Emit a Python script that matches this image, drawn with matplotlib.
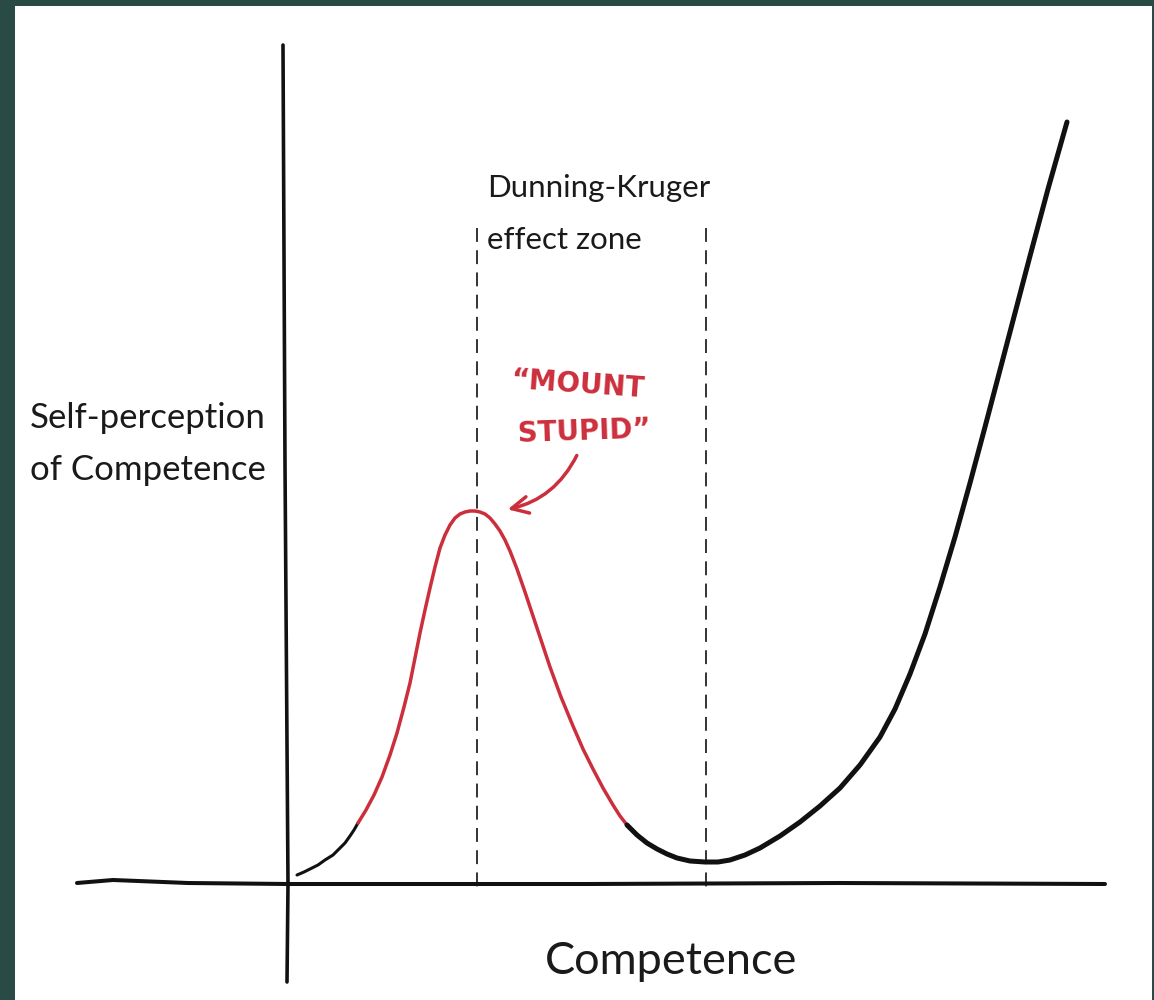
import matplotlib.pyplot as plt

plt.rcParams['lines.scale_dashes'] = False

# curve (origin where the two axes cross)
lead_x = [9, 16, 22, 30, 37, 45, 52, 57, 62, 66, 70]
lead_y = [9, 12, 15, 19, 24, 29, 36, 41, 48, 54, 61]

stupid_x = [70, 78, 86, 94, 102, 109, 116, 122, 127, 132, 137, 142, 147, 152, 157, 162, 167,
            172, 177, 182, 187, 192, 197, 202, 207, 212, 217, 222, 229, 237, 245, 253, 262,
            273, 285, 295, 305, 315, 325, 332, 339]
stupid_y = [61, 74, 89, 107, 129, 151, 177, 201, 226, 251, 274, 296, 317, 336, 349, 359, 366,
            370, 372, 373, 373, 372, 370, 366, 360, 353, 344, 333, 315, 292, 268, 244, 217,
            187, 158, 135, 115, 96, 79, 68, 59]

climb_x = [339, 349, 359, 369, 379, 389, 402, 417, 430, 442, 457, 472, 492, 512, 532, 552,
           572, 592, 607, 622, 637, 652, 667, 682, 697, 712, 727, 742, 760, 779]
climb_y = [59, 49, 41, 35, 30, 26, 23, 22, 22, 24, 29, 36, 48, 62, 78, 96,
           119, 147, 175, 210, 250, 297, 347, 401, 457, 514, 571, 628, 695, 762]

# zone borders
zone_x = [189, 418]
zone_top = 656
zone_bottom = -4

# hand drawn axes
xaxis_x = [-211, -175, -100, 0, 300, 550, 817]
xaxis_y = [1, 4, 1, 0, 0, 1, 0]
yaxis_x = [-5, -3, 0, -1]
yaxis_y = [839, 420, 0, -98]

red = '#cc2f3c'
ink = '#111111'

fig = plt.figure(figsize=(11.54, 10), dpi=100)
fig.patch.set_facecolor('#2a4a45')
ax = fig.add_axes([15 / 1154, 0, 1137 / 1154, 994 / 1000])
ax.set_facecolor('white')
ax.set_xlim(-273, 864)
ax.set_ylim(-116, 878)
ax.set_xticks([])
ax.set_yticks([])
for s in ax.spines.values():
    s.set_visible(False)

# axes
ax.plot(xaxis_x, xaxis_y, color=ink, lw=2.9, solid_capstyle='round')
ax.plot(yaxis_x, yaxis_y, color=ink, lw=2.6, solid_capstyle='round')

# dashed zone
for zx in zone_x:
    ax.plot([zx, zx], [zone_top, zone_bottom], color=ink, lw=1.2, dashes=(10, 6))

# the curve
ax.plot(lead_x, lead_y, color=ink, lw=2.2, solid_capstyle='round', solid_joinstyle='round')
ax.plot(stupid_x, stupid_y, color=red, lw=2.5, solid_capstyle='round', solid_joinstyle='round')
ax.plot(climb_x, climb_y, color=ink, lw=3.6, solid_capstyle='round', solid_joinstyle='round')

# labels
lbl = dict(family=['Lato', 'DejaVu Sans'], color='#1a1a1a', ha='left', va='center')
ax.text(-258, 466, 'Self-perception', fontsize=25, **lbl)
ax.text(-258, 414, 'of Competence', fontsize=25, **lbl)
ax.text(199, 696, 'Dunning-Kruger', fontsize=22.5, **lbl)
ax.text(199, 644, 'effect zone', fontsize=22.5, **lbl)
ax.text(383, -78, 'Competence', ha='center', va='center', fontsize=32.5,
        family=['Lato', 'DejaVu Sans'], color='#1a1a1a')

# mount stupid note
ax.text(289, 499, '\u201cMOUNT', ha='center', va='center', fontsize=20, color=red,
        rotation=-4, fontweight='bold', family=['DejaVu Sans'])
ax.text(296, 452, 'STUPID\u201d', ha='center', va='center', fontsize=20, color=red,
        rotation=2, fontweight='bold', family=['DejaVu Sans'])
ax.annotate('', xy=(217, 374), xytext=(290, 431),
            arrowprops=dict(arrowstyle='->', color=red, lw=2.5,
                            mutation_scale=30, connectionstyle='arc3,rad=-0.25'))

fig.savefig('out.png', dpi=100, facecolor=fig.get_facecolor())
